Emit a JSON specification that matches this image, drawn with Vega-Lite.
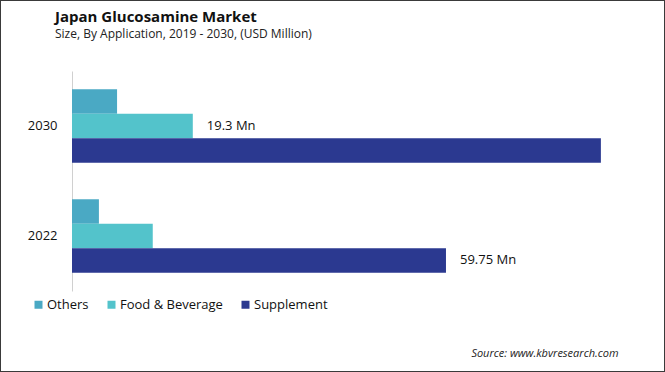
{
  "$schema": "https://vega.github.io/schema/vega-lite/v6.json",
  "width": 665,
  "height": 372,
  "autosize": {"type": "none"},
  "padding": 0,
  "background": "white",
  "config": {
    "view": {"stroke": "#3a3a3a", "strokeWidth": 2},
    "font": "Open Sans"
  },
  "title": {
    "text": "Japan Glucosamine Market",
    "subtitle": "Size, By Application, 2019 - 2030, (USD Million)",
    "anchor": "start",
    "frame": "group",
    "dx": 55,
    "offset": -40,
    "fontSize": 15,
    "fontWeight": "bold",
    "color": "#111111",
    "subtitleFontSize": 12,
    "subtitleColor": "#222222",
    "subtitlePadding": 4
  },
  "data": {
    "values": [
      {"year": "2030", "segment": "Others", "value": 7.2, "label": null},
      {"year": "2030", "segment": "Food & Beverage", "value": 19.3, "label": "19.3 Mn"},
      {"year": "2030", "segment": "Supplement", "value": 84.5, "label": null},
      {"year": "2022", "segment": "Others", "value": 4.3, "label": null},
      {"year": "2022", "segment": "Food & Beverage", "value": 12.9, "label": null},
      {"year": "2022", "segment": "Supplement", "value": 59.75, "label": "59.75 Mn"}
    ]
  },
  "encoding": {
    "y": {
      "field": "year",
      "type": "nominal",
      "sort": ["2030", "2022"],
      "scale": {"range": [71, 291], "paddingInner": 0.332, "paddingOuter": 0.166},
      "axis": {
        "title": null,
        "offset": -72,
        "ticks": false,
        "domainColor": "#d0d0d0",
        "domainWidth": 1,
        "labelFontSize": 13,
        "labelColor": "#111111",
        "labelPadding": 15
      }
    },
    "yOffset": {
      "field": "segment",
      "type": "nominal",
      "sort": ["Others", "Food & Beverage", "Supplement"],
      "scale": {"paddingInner": 0, "paddingOuter": 0}
    },
    "x": {
      "field": "value",
      "type": "quantitative",
      "scale": {"domain": [0, 100], "range": [72, 697.9], "nice": false},
      "axis": {
        "labels": false,
        "ticks": false,
        "domain": false,
        "grid": false,
        "title": "Source: www.kbvresearch.com",
        "titleFontStyle": "italic",
        "titleFontWeight": "normal",
        "titleFontSize": 11,
        "titleColor": "#222222",
        "titleAlign": "right",
        "titleAnchor": null,
        "titleBaseline": "alphabetic",
        "titleX": 618,
        "titleY": -16
      }
    }
  },
  "layer": [
    {
      "mark": {"type": "bar", "cornerRadius": 0},
      "encoding": {
        "color": {
          "field": "segment",
          "type": "nominal",
          "sort": ["Others", "Food & Beverage", "Supplement"],
          "scale": {
            "domain": ["Others", "Food & Beverage", "Supplement"],
            "range": ["#4aa9c4", "#53c3cb", "#2b3990"]
          },
          "legend": {
            "title": null,
            "orient": "none",
            "direction": "horizontal",
            "legendX": 32,
            "legendY": 298,
            "symbolType": "square",
            "symbolSize": 64,
            "symbolStrokeWidth": 0,
            "labelFontSize": 13,
            "labelColor": "#111111",
            "labelOffset": 2,
            "columnPadding": 16
          }
        }
      }
    },
    {
      "transform": [{"filter": "datum.label != null"}],
      "mark": {"type": "text", "align": "left", "baseline": "middle", "dx": 14, "fontSize": 13, "color": "#111111"},
      "encoding": {
        "text": {"field": "label", "type": "nominal"}
      }
    }
  ]
}
